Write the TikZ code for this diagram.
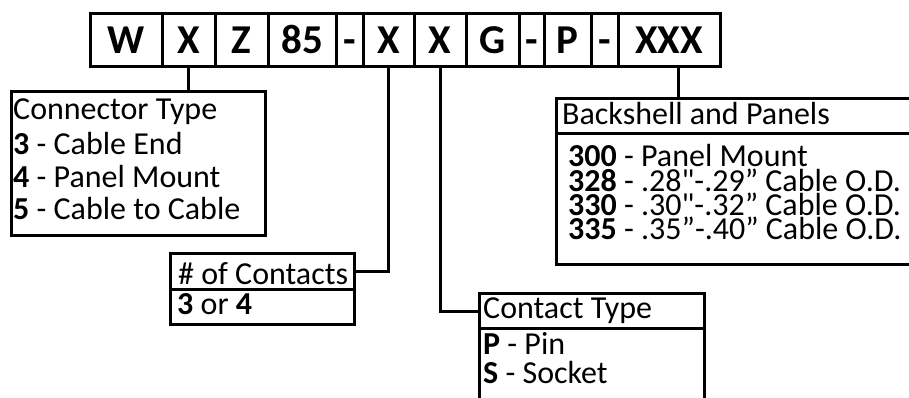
\documentclass[tikz,border=0pt]{standalone}
\usepackage{fontspec}
\setmainfont{Carlito}
\usetikzlibrary{positioning}

\tikzset{
  cell/.style={draw, line width=3pt, minimum height=53, inner sep=0pt,
    text height=27pt, text depth=0pt, font=\fontsize{41}{41}\selectfont\bfseries},
  frame/.style={draw, line width=3pt, anchor=north west, inner sep=0pt},
  entry/.style={anchor=base west, inner sep=0pt, font=\fontsize{32}{33}\selectfont},
  link/.style={line width=3pt},
}

\begin{document}
\begin{tikzpicture}[x=1pt,y=-1pt]
\useasboundingbox (0,0) rectangle (909,397);
\clip (0,0) rectangle (909,397);

% Part number cells
\foreach \n/\x/\w/\t in {w/126/72/W, x1/188.5/53/X, z/241.5/53/Z, n85/302/68/85,
    d1/349.5/27/-, x2/388.5/51/X, x3/440/52/X, g/492.5/53/G, d2/531.5/25/-,
    p/567.5/47/P, d3/604.5/27/-, xxx/669/102/XXX}
  \node[cell, minimum width=\w] (\n) at (\x,39.5) {\t};

% Connector type
\node[frame, minimum width=254, minimum height=144] (ctype) at (10,90) {};
\foreach \y/\t [count=\i] in {119/Connector Type, 154/{\textbf{3} - Cable End},
    187/{\textbf{4} - Panel Mount}, 219/{\textbf{5} - Cable to Cable}}
  \node[entry] (ct\i) at (13,\y) {\t};

% Number of contacts
\node[frame, minimum width=184, minimum height=36] (nhead) at (169,252) {};
\node[frame, minimum width=184, minimum height=35] (nbody) at (169,288) {};
\node[entry] (nc1) at (178,284) {\# of Contacts};
\node[entry] (nc2) at (177,314) {\textbf{3} or \textbf{4}};

% Contact type
\node[frame, minimum width=225, minimum height=35] (cthead) at (478,292) {};
\node[frame, minimum width=225, minimum height=95] (ctbody) at (478,327) {};
\foreach \y/\t [count=\i] in {318/Contact Type, 354/{\textbf{P} - Pin}, 383/{\textbf{S} - Socket}}
  \node[entry] (cn\i) at (483,\y) {\t};

% Backshell and panels
\node[frame, minimum width=380, minimum height=35] (bhead) at (555,97) {};
\node[frame, minimum width=380, minimum height=131] (bbody) at (555,132) {};
\node[entry] (bp0) at (562,124) {Backshell and Panels};
\foreach \y/\t [count=\i] in {166/{\textbf{300} - Panel Mount},
    191/{\textbf{328} - .28\textquotedbl-.29” Cable O.D.},
    215/{\textbf{330} - .30\textquotedbl-.32” Cable O.D.},
    239/{\textbf{335} - .35”-.40” Cable O.D.}}
  \node[entry] (bp\i) at (568,\y) {\t};

% Leaders
\draw[link] (x1.south) -- (x1.south |- ctype.north);
\draw[link] (x2.south) |- (nhead.east);
\draw[link] (x3.south) |- (cthead.west);
\draw[link] ([xshift=9pt]xxx.south) -- ([xshift=9pt]xxx.south |- bhead.north);
\end{tikzpicture}
\end{document}
